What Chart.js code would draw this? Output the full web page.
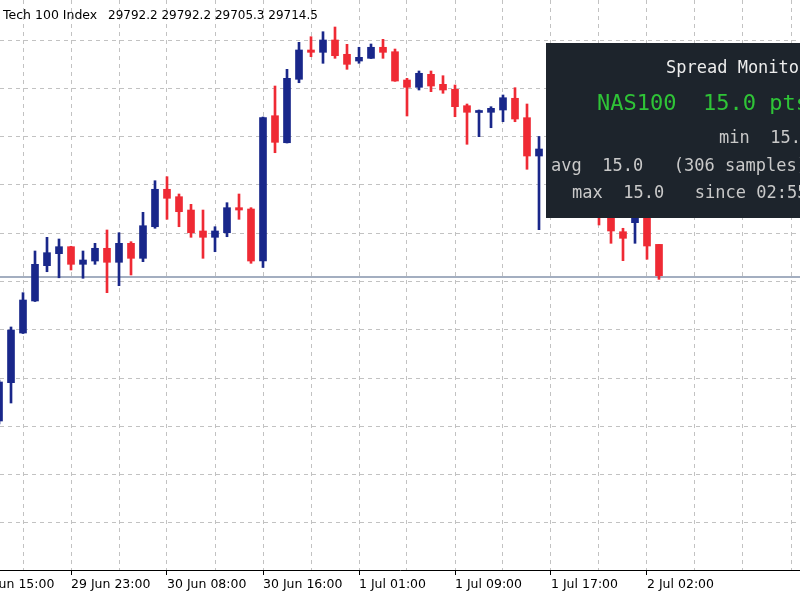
<!DOCTYPE html>
<html>
<head>
<meta charset="utf-8">
<script src="https://cdn.jsdelivr.net/npm/chart.js@4.4.1/dist/chart.umd.min.js"></script>
<style>
  html, body { margin: 0; padding: 0; background: #fff; overflow: hidden; }
</style>
</head>
<body>
<canvas id="chart" width="800" height="600"></canvas>
<script>
// hourly candles, oldest first (index 0 is the half-cut one at the left edge)
const opens = [29353.4, 29448.6, 29572.0, 29651.6, 29739.3, 29769.1, 29786.5, 29742.7, 29750.9, 29782.5,
  29747.7, 29794.9, 29757.6, 29836.1, 29929.1, 29910.7, 29877.6, 29825.5, 29809.8, 29821.2,
  29883.4, 29880.1, 29750.9, 30111.9, 30044.8, 30202.4, 30275.2, 30269.4, 30300.0, 30264.5,
  30247.8, 30254.5, 30281.9, 30270.9, 30200.6, 30182.5, 30214.8, 30189.9, 30177.5, 30136.8,
  30119.9, 30120.4, 30126.1, 30155.2, 30107.0, 30011.8, 30029.2, 29989.4, 30006.8, 29942.2,
  29902.5, 29872.7, 29823.7, 29846.1, 29867.7, 29792.2];
const highs = [29455.3, 29587.0, 29672.2, 29775.8, 29809.8, 29805.6, 29787.5, 29775.8, 29794.9, 29828.0,
  29821.2, 29798.9, 29871.9, 29950.4, 29960.4, 29917.4, 29891.8, 29877.6, 29836.1, 29895.8,
  29917.4, 29883.4, 30108.7, 30185.7, 30227.2, 30294.3, 30308.2, 30320.6, 30332.3, 30289.3,
  30281.9, 30290.1, 30301.7, 30277.6, 30204.8, 30223.0, 30223.0, 30211.3, 30188.2, 30141.0,
  30126.1, 30134.3, 30163.4, 30181.5, 30141.0, 30060.3, 30039.1, 30021.7, 30014.3, 29957.1,
  29914.9, 29890.1, 29832.2, 29890.1, 29882.6, 29792.2];
const lows = [29346.0, 29398.1, 29570.8, 29650.3, 29724.3, 29709.2, 29728.6, 29708.0, 29742.7, 29672.2,
  29689.6, 29716.1, 29749.2, 29832.2, 29854.5, 29836.1, 29809.8, 29757.6, 29774.0, 29811.3,
  29854.5, 29745.2, 29734.8, 30020.0, 30044.1, 30193.9, 30258.5, 30242.1, 30254.5, 30227.2,
  30242.1, 30254.0, 30254.5, 30197.4, 30111.2, 30175.8, 30171.6, 30167.6, 30109.4, 30040.9,
  30059.8, 30082.1, 30097.0, 30097.0, 29978.8, 29828.7, 29972.1, 29964.6, 29927.3, 29877.6,
  29840.4, 29794.9, 29751.7, 29794.9, 29755.2, 29705.3];
const closes = [29450.3, 29579.5, 29654.0, 29742.7, 29771.6, 29786.5, 29742.7, 29753.4, 29782.5, 29747.7,
  29794.9, 29757.6, 29838.6, 29929.1, 29906.7, 29873.4, 29821.2, 29809.8, 29825.5, 29883.4,
  29877.6, 29750.9, 30107.5, 30045.8, 30204.8, 30275.2, 30269.4, 30300.0, 30261.0, 30239.6,
  30257.0, 30281.9, 30269.4, 30198.1, 30182.5, 30217.3, 30185.7, 30175.8, 30134.3, 30120.4,
  30124.1, 30130.3, 30156.6, 30103.7, 30011.8, 30029.2, 29989.4, 30006.8, 29942.2, 29902.5,
  29872.7, 29825.5, 29807.3, 29867.7, 29788.2, 29714.5];

const timeLabels = ["29 Jun 15:00", "29 Jun 23:00", "30 Jun 08:00", "30 Jun 16:00", "1 Jul 01:00", "1 Jul 09:00", "1 Jul 17:00", "2 Jul 02:00"];
const timeLabelIdx = [-2, 6, 14, 22, 30, 38, 46, 54];
const priceGrid = [29100, 29220, 29340, 29460, 29580, 29700, 29820, 29940, 30060, 30180, 30300];

const bidPrice = 29714.5;
const symbolName = "Tech 100 Index";
const lastBar = ["29792.2", "29792.2", "29705.3", "29714.5"]; // O H L C
const monitorTitle = "Spread Monitor";
const monitorMain = "NAS100  15.0 pts";
const monitorStats = ["min  15.0", "avg  15.0   (306 samples)", "max  15.0   since 02:55"];

const BLUE = '#19278a';
const RED = '#ef2a34';
const GRID = '#c2c2c2';

const colors = opens.map((o, i) => closes[i] >= o ? BLUE : RED);
const bodies = opens.map((o, i) => ({ x: i, y: [o, closes[i]] }));
const wicks = highs.map((h, i) => ({ x: i, y: [lows[i], h] }));

// every 4th candle gets a grid line, every 8th a label
const gridIdx = [];
for (let v = -2; v <= 66; v += 4) gridIdx.push(v);

const overlay = {
  id: 'overlay',
  beforeDatasetsDraw(chart) {
    const { ctx, chartArea, scales } = chart;
    const y = Math.round(scales.y.getPixelForValue(bidPrice)) + 1;
    ctx.save();
    ctx.strokeStyle = '#8593ab';
    ctx.lineWidth = 1.5;
    ctx.beginPath();
    ctx.moveTo(chartArea.left, y);
    ctx.lineTo(chartArea.right, y);
    ctx.stroke();
    ctx.restore();
  },
  afterDraw(chart) {
    const ctx = chart.ctx;
    ctx.save();
    ctx.fillStyle = '#000';
    ctx.textBaseline = 'alphabetic';
    ctx.font = '12.5px "DejaVu Sans"';
    ctx.fillText(symbolName, 3, 19);
    ctx.font = '12px "DejaVu Sans"';
    ctx.fillText(lastBar.join(' '), 108, 19);

    // spread monitor panel
    ctx.fillStyle = '#1d242c';
    ctx.fillRect(546, 43, 260, 175);
    ctx.font = '17px "DejaVu Sans Mono"';
    ctx.fillStyle = '#ececec';
    ctx.fillText(monitorTitle, 666, 73);
    ctx.font = '22px "DejaVu Sans Mono"';
    ctx.fillStyle = '#2fc437';
    ctx.fillText(monitorMain, 597, 110);
    ctx.font = '17px "DejaVu Sans Mono"';
    ctx.fillStyle = '#c9c9c9';
    ctx.fillText(monitorStats[0], 719, 143);
    ctx.fillText(monitorStats[1], 551, 171);
    ctx.fillText(monitorStats[2], 572, 198);
    ctx.restore();
  }
};

new Chart(document.getElementById('chart'), {
  type: 'bar',
  data: {
    datasets: [
      { data: wicks, backgroundColor: colors, barThickness: 2, grouped: false, order: 1 },
      { data: bodies, backgroundColor: colors, barThickness: 7, minBarLength: 2, grouped: false, order: 0 }
    ]
  },
  options: {
    responsive: false,
    animation: false,
    layout: { padding: 0 },
    plugins: { legend: { display: false }, tooltip: { enabled: false } },
    scales: {
      x: {
        type: 'linear',
        min: 1 / 12,
        max: 1 / 12 + 800 / 12,
        offset: false,
        afterBuildTicks: s => { s.ticks = gridIdx.map(v => ({ value: v })); },
        afterFit: s => { s.height = 30; s.paddingLeft = 0; s.paddingRight = 0; },
        ticks: {
          autoSkip: false,
          maxRotation: 0,
          align: 'start',
          padding: 2,
          color: '#000',
          font: { family: 'DejaVu Sans', size: 12.5 },
          callback: v => {
            const k = timeLabelIdx.indexOf(v);
            return k >= 0 ? timeLabels[k] : '';
          }
        },
        grid: {
          color: GRID,
          offset: false,
          tickLength: 5,
          tickWidth: 1,
          tickColor: c => (c.tick && timeLabelIdx.includes(c.tick.value)) ? '#000' : 'rgba(0,0,0,0)'
        },
        border: { display: true, color: '#000', width: 1, dash: [4, 4] }
      },
      y: {
        min: 28983.2,
        max: 30399.4,
        afterBuildTicks: s => { s.ticks = priceGrid.map(v => ({ value: v })); },
        afterFit: s => { s.width = 0; },
        ticks: { display: false },
        grid: { color: GRID, drawTicks: false },
        border: { display: false, dash: [4, 4] }
      }
    }
  },
  plugins: [overlay]
});
</script>
</body>
</html>
